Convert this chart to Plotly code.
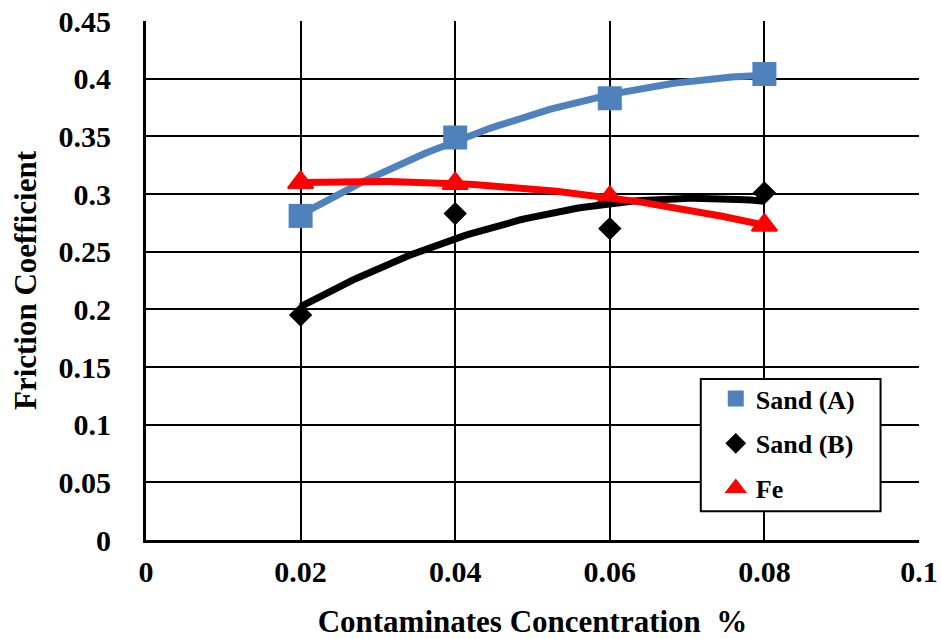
import numpy as np
import plotly.graph_objects as go

# ---- data ----
concentration = [0.02, 0.04, 0.06, 0.08]
sand_a = [0.281, 0.349, 0.383, 0.404]
sand_b = [0.195, 0.283, 0.270, 0.301]
fe = [0.310, 0.309, 0.297, 0.273]

x_tickvals = [0, 0.02, 0.04, 0.06, 0.08, 0.1]
x_ticktext = ["0", "0.02", "0.04", "0.06", "0.08", "0.1"]
y_tickvals = [0, 0.05, 0.1, 0.15, 0.2, 0.25, 0.3, 0.35, 0.4, 0.45]
y_ticktext = ["0", "0.05", "0.1", "0.15", "0.2", "0.25", "0.3", "0.35", "0.4", "0.45"]

series_names = ["Sand (A)", "Sand (B)", "Fe"]
series_values = [sand_a, sand_b, fe]
series_colors = ["#4F81BD", "#000000", "#FF0000"]
series_symbols = ["square", "diamond", "triangle-up"]
series_sizes = [24, 18, 22]

FONT = "Liberation Serif, Times New Roman, serif"


def bold(size):
    return dict(family=FONT, size=size, color="black", weight="bold")


fig = go.Figure()

# markers
for i, (name, vals, col, sym, sz) in enumerate(
        zip(series_names, series_values, series_colors, series_symbols, series_sizes)):
    fig.add_trace(go.Scatter(
        x=concentration, y=vals, mode="markers", name=name,
        legendgroup=f"g{i}",
        marker=dict(symbol=sym, size=sz, color=col,
                    line=dict(width=2 if sym == "triangle-up" else 0, color=col)),
        showlegend=True,
    ))

# 2nd-order polynomial trendlines (as in the spreadsheet chart)
xs = np.linspace(min(concentration), max(concentration), 100)
for name, vals, col in zip(series_names, series_values, series_colors):
    coef = np.polyfit(concentration, vals, 2)
    fig.add_trace(go.Scatter(
        x=xs, y=np.polyval(coef, xs), mode="lines",
        line=dict(color=col, width=7), showlegend=False, hoverinfo="skip",
    ))

# plot-area geometry (pixels)
L, R, T, B = 145.5, 21.5, 21.4, 99.3
W, H = 941, 639
pw, ph = W - L - R, H - T - B


def px_x(p):
    return (p - L) / pw


def px_y(p):
    return (H - B - p) / ph


# legend box
fig.add_shape(type="rect", xref="paper", yref="paper",
              x0=px_x(701), x1=px_x(881), y0=px_y(511), y1=px_y(379),
              line=dict(color="black", width=2), fillcolor="white", layer="above")

axis_common = dict(
    showgrid=True, gridcolor="black", gridwidth=2, zeroline=False,
    showline=True, linecolor="black", linewidth=3,
    ticks="",
)

fig.update_xaxes(
    range=[0, 0.1], tickvals=x_tickvals, ticktext=x_ticktext,
    tickfont=bold(30),
    title=dict(text="Contaminates Concentration  %", font=bold(31), standoff=24),
    ticklabelstandoff=3, **axis_common)
fig.update_yaxes(
    range=[0, 0.45], tickvals=y_tickvals, ticktext=y_ticktext,
    tickfont=bold(30),
    title=dict(text="Friction Coefficient", font=bold(31), standoff=13),
    ticklabelstandoff=26, **axis_common)

fig.update_layout(
    width=W, height=H,
    font=bold(30),
    margin=dict(l=L, r=R, t=T, b=B, autoexpand=False),
    paper_bgcolor="white", plot_bgcolor="white",
    showlegend=True,
    legend=dict(
        x=px_x(708), y=px_y(375), xanchor="left", yanchor="top",
        bgcolor="rgba(0,0,0,0)", borderwidth=0,
        font=bold(26),
        traceorder="grouped", tracegroupgap=8, indentation=8,
    ),
)

fig.write_html("out.html")
